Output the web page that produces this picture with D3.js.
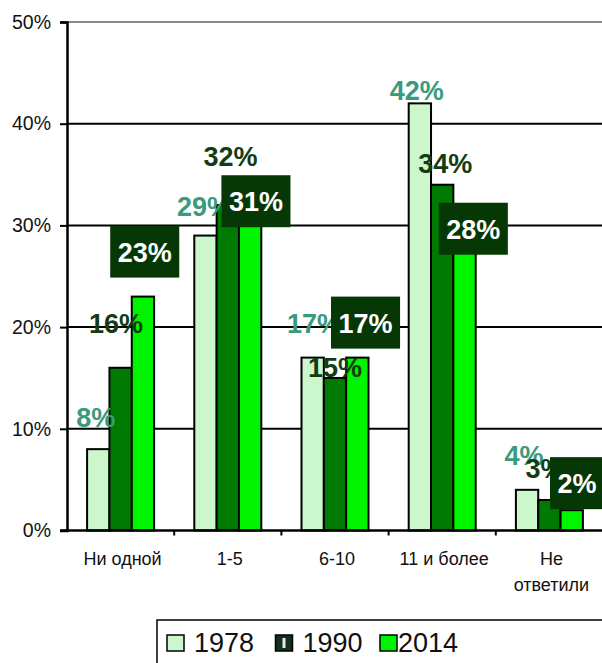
<!DOCTYPE html>
<html><head><meta charset="utf-8">
<script src="https://cdn.jsdelivr.net/npm/d3@7/dist/d3.min.js"></script>
<style>
html,body{margin:0;padding:0;background:#fff;}
svg{display:block;font-family:"Liberation Sans",Arial,sans-serif;}
</style></head>
<body>
<svg id="chart" width="602" height="663"></svg>
<script>
// ---- data ----
const categories = ["Ни одной", "1-5", "6-10", "11 и более", "Не\nответили"];
const years = ["1978", "1990", "2014"];
const values1978 = [8, 29, 17, 42, 4];
const values1990 = [16, 32, 15, 34, 3];
const values2014 = [23, 31, 17, 28, 2];
const yTicks = [0, 10, 20, 30, 40, 50];

// ---- layout / style (kept separate from data) ----
const colors = {"1978": "#ccf7cc", "1990": "#007a00", "2014": "#00f400"};
const labelStyle = {
  "1978": {fill: "#3a9a7c", box: false},
  "1990": {fill: "#143c14", box: false},
  "2014": {fill: "#ffffff", box: true}
};
// hand-placed label nudges [dx, dy] relative to bar top-centre (as in the original)
const labelNudge = {
  "1978": [[-2.5, -22], [-1.5, -20], [1.3, -24.5], [-3, -3.5], [-3, -25]],
  "1990": [[-4.6, -35], [2.7, -39], [0, -1], [3, -11.7], [-4.5, -22]],
  "2014": [[1.8, -45], [5.8, -14], [8.2, -35], [8.8, -17], [5.3, -27]]
};

const series = {"1978": values1978, "1990": values1990, "2014": values2014};

const svg = d3.select("#chart");
const plot = {left: 67, right: 603, top: 22, bottom: 530.5};

const x0 = d3.scaleBand().domain(categories).range([plot.left, plot.right])
  .paddingInner(0.375).paddingOuter(0.1875);
const x1 = d3.scaleBand().domain(years).range([0, x0.bandwidth()]);
const y = d3.scaleLinear().domain([0, 50]).range([plot.bottom, plot.top]);

// gridlines
svg.append("g").selectAll("line").data(yTicks.filter(t => t > 0)).join("line")
  .attr("x1", plot.left).attr("x2", 602)
  .attr("y1", d => y(d)).attr("y2", d => y(d))
  .attr("stroke", d => d === 50 ? "#8a8a8a" : "#000")
  .attr("stroke-width", 2);

// bars
const groups = svg.append("g").selectAll("g").data(categories).join("g")
  .attr("transform", d => `translate(${x0(d)},0)`);
groups.selectAll("rect").data((c, i) => years.map(yr => ({yr, v: series[yr][i]})))
  .join("rect")
  .attr("x", d => x1(d.yr)).attr("width", x1.bandwidth())
  .attr("y", d => y(d.v)).attr("height", d => y(0) - y(d.v))
  .attr("fill", d => colors[d.yr])
  .attr("stroke", "#000").attr("stroke-width", 2);

// y axis
const yAxis = d3.axisLeft(y).tickValues(yTicks).tickFormat(d => d + "%").tickSize(7).tickPadding(9);
const gy = svg.append("g").attr("transform", `translate(${plot.left},0)`).call(yAxis);
gy.select(".domain").attr("stroke", "#000").attr("stroke-width", 2.5);
gy.selectAll(".tick line").attr("stroke", "#000").attr("stroke-width", 2);
gy.selectAll(".tick text").attr("font-size", 19.5).attr("fill", "#111")
  .attr("font-family", "Liberation Sans, Arial, sans-serif");

// x axis
const xAxis = d3.axisBottom(x0).tickSize(0).tickFormat("");
const gx = svg.append("g").attr("transform", `translate(0,${plot.bottom})`).call(xAxis);
gx.select(".domain").attr("stroke", "#000").attr("stroke-width", 2.5).attr("d", `M${plot.left - 7},0H602`);
// boundary tick marks between categories
svg.append("g").selectAll("line").data(categories.slice(1)).join("line")
  .attr("x1", d => x0(d) - x0.step() * x0.paddingInner() / 2)
  .attr("x2", d => x0(d) - x0.step() * x0.paddingInner() / 2)
  .attr("y1", plot.bottom).attr("y2", plot.bottom + 5)
  .attr("stroke", "#000").attr("stroke-width", 2);

// category labels
svg.append("g").selectAll("text").data(categories).join("text")
  .attr("x", d => x0(d) + x0.bandwidth() / 2 + 2)
  .attr("y", 565)
  .attr("text-anchor", "middle").attr("font-size", 18).attr("fill", "#111")
  .each(function(d) {
    const lines = d.split("\n");
    d3.select(this).selectAll("tspan").data(lines).join("tspan")
      .attr("x", d3.select(this).attr("x"))
      .attr("dy", (l, i) => i === 0 ? 0 : 26)
      .text(l => l);
  });

// value labels
const fontSize = 27;
years.forEach(yr => {
  const st = labelStyle[yr];
  const g = svg.append("g");
  categories.forEach((c, i) => {
    const v = series[yr][i];
    const cx = x0(c) + x1(yr) + x1.bandwidth() / 2 + labelNudge[yr][i][0];
    const ty = y(v) + labelNudge[yr][i][1];
    if (st.box) {
      const t = g.append("text").attr("x", cx).attr("y", ty + 10)
        .attr("text-anchor", "middle").attr("font-size", fontSize).attr("font-weight", "bold")
        .attr("fill", st.fill).text(v + "%");
      const w = t.node().getComputedTextLength() + 15;
      g.insert("rect", () => t.node())
        .attr("x", cx - w / 2).attr("y", ty - 26).attr("width", w).attr("height", 52)
        .attr("fill", "#063806");
    } else {
      g.append("text").attr("x", cx).attr("y", ty)
        .attr("text-anchor", "middle").attr("font-size", fontSize).attr("font-weight", "bold")
        .attr("fill", st.fill).text(v + "%");
    }
  });
});

// legend
const lg = svg.append("g");
lg.append("rect").attr("x", 157).attr("y", 620).attr("width", 470).attr("height", 60)
  .attr("fill", "#fff").attr("stroke", "#000").attr("stroke-width", 1.5);
const legendX = d3.scalePoint().domain(years).range([167, 380]);
const li = lg.selectAll("g").data(years).join("g")
  .attr("transform", d => `translate(${legendX(d) + (d === "1990" ? 2 : 0)},635)`);
li.append("rect").attr("width", 17).attr("height", 16)
  .attr("fill", d => d === "1990" ? "#12301c" : colors[d])
  .attr("stroke", "#000").attr("stroke-width", 1.5);
li.filter(d => d === "1990").append("rect").attr("x", 7).attr("y", 3).attr("width", 3).attr("height", 10).attr("fill", "#e8e8e8");
li.append("text").attr("x", d => d === "2014" ? 18 : 27).attr("y", 16.5)
  .attr("font-size", 27).attr("fill", "#111").text(d => d);
</script>
</body></html>
